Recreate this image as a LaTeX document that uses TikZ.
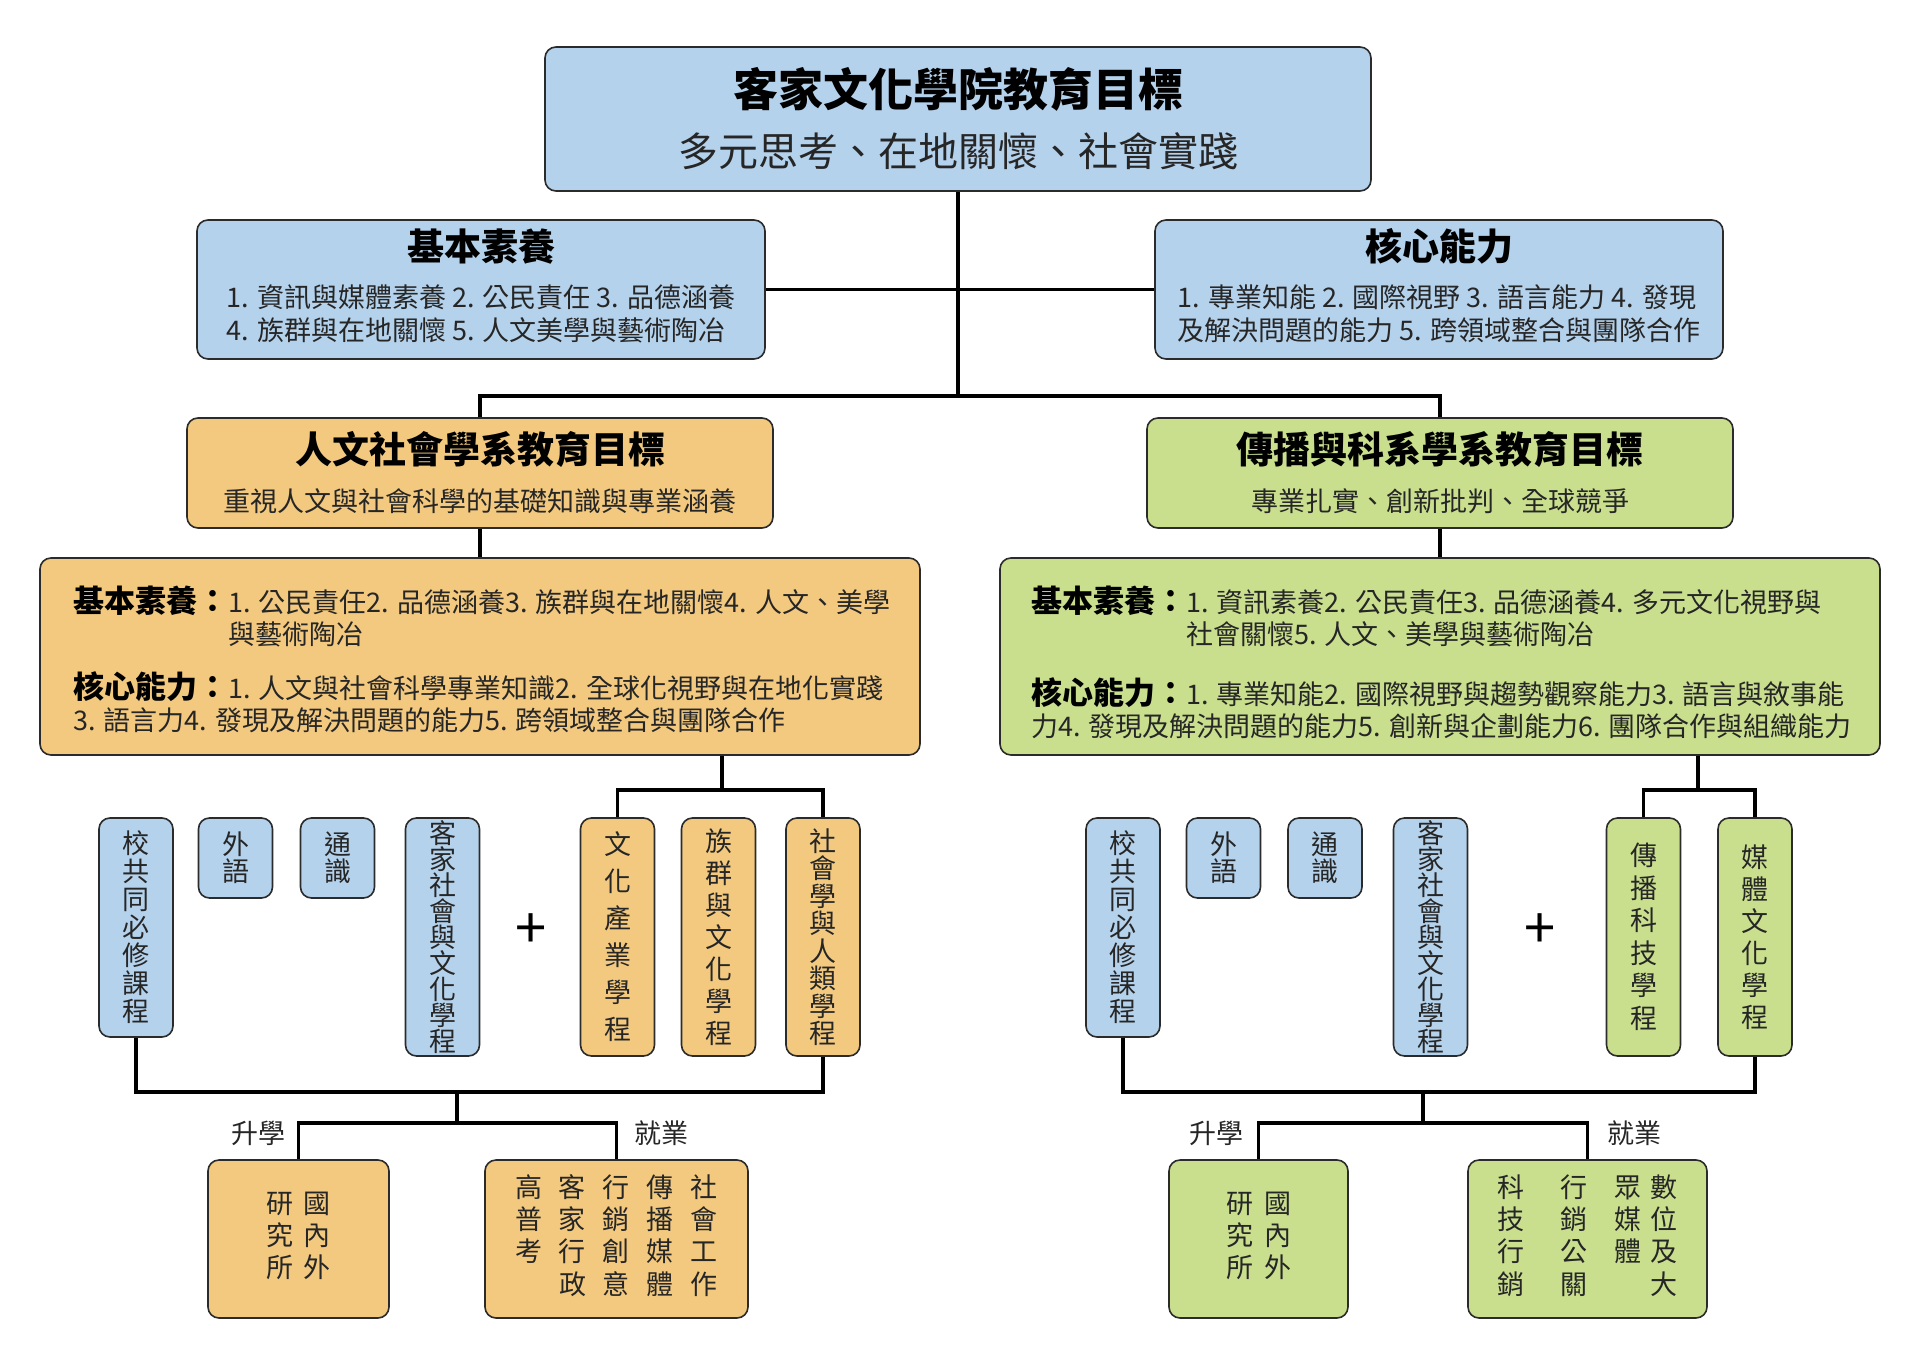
\documentclass[tikz,border=0pt]{standalone}
\usepackage{fontspec}
\setmainfont{Noto Sans CJK TC}
\usepackage{tikz}
\usetikzlibrary{positioning,calc}
\definecolor{hkblue}{HTML}{B5D2EC}
\definecolor{hkorange}{HTML}{F2C97F}
\definecolor{hkgreen}{HTML}{C9DF8E}
\definecolor{hkline}{HTML}{2B2B2B}
\newcommand{\fs}[2]{\fontsize{#1}{#2}\selectfont}
\newcommand{\hd}[1]{{\fs{31}{32}\bfseries\color{black} #1}}
\tikzset{
  box/.style = {draw=hkline, line width=1.6pt, rounded corners=11pt,
    align=center, inner sep=0pt, text=black!85},
  box_b/.style = {box, fill=hkblue},% blue: college level
  box_o/.style = {box, fill=hkorange},% orange: humanities dept
  box_g/.style = {box, fill=hkgreen},% green: communication dept
  vcol/.style = {minimum width=74pt, minimum height=219pt},% course column
  vcol_l/.style = {minimum width=74pt, minimum height=238pt},
  vcol_s/.style = {minimum width=74pt, minimum height=80pt},
  link/.style = {draw=black, line width=3.6pt},
  lbl/.style = {font=\fs{27}{27}, inner sep=0pt, text=black!85},
  hang/.style = {anchor=west, align=left, inner sep=0pt, font=\fs{27}{32}, text=black!85}
}

\begin{document}
\begin{tikzpicture}[x=1pt,y=-1pt]
\path[use as bounding box, fill=white] (0,0) rectangle (1920,1357);

% college level
\node[box_b, minimum width=826pt, minimum height=144pt, font=\fs{40}{60}] (goal) at (958,119)
  {{\fs{45}{60}\bfseries\color{black} 客家文化學院教育目標}\\多元思考、在地關懷、社會實踐};
\node[box_b, minimum width=568pt, minimum height=139pt, font=\fs{27}{33}] (basic) at (481,289.5)
  {{\fs{37}{33}\bfseries\color{black} 基本素養}\\[14pt]
   \begin{tabular}[t]{@{}l@{}}1. 資訊與媒體素養 2. 公民責任 3. 品德涵養\\4. 族群與在地關懷 5. 人文美學與藝術陶冶\end{tabular}};
\node[box_b, minimum width=568pt, minimum height=139pt, font=\fs{27}{33}] (core) at (1439,289.5)
  {{\fs{37}{33}\bfseries\color{black} 核心能力}\\[14pt]
   \begin{tabular}[t]{@{}l@{}}1. 專業知能 2. 國際視野 3. 語言能力 4. 發現\\及解決問題的能力 5. 跨領域整合與團隊合作\end{tabular}};

% departments
\node[box_o, minimum width=586pt, minimum height=110pt, font=\fs{27}{48}] (dept_o) at (480,473)
  {{\fs{37}{48}\bfseries\color{black} 人文社會學系教育目標}\\重視人文與社會科學的基礎知識與專業涵養};
\node[box_g, minimum width=586pt, minimum height=110pt, font=\fs{27}{48}] (dept_g) at (1440,473)
  {{\fs{37}{48}\bfseries\color{black} 傳播與科系學系教育目標}\\專業扎實、創新批判、全球競爭};

\node[box_o, minimum width=880pt, minimum height=197pt] (big_o) at (480,656.5) {};
\node[hang] (txt_o1) at (73,617)
  {\hd{基本素養：}1. 公民責任2. 品德涵養3. 族群與在地關懷4. 人文、美學\\\hphantom{\hd{基本素養：}}與藝術陶冶};
\node[hang] (txt_o2) at (73,702)
  {\hd{核心能力：}1. 人文與社會科學專業知識2. 全球化視野與在地化實踐\\3. 語言力4. 發現及解決問題的能力5. 跨領域整合與團隊合作};

\node[box_g, minimum width=880pt, minimum height=197pt] (big_g) at (1440,656.5) {};
\node[hang] (txt_g1) at (1031,617)
  {\hd{基本素養：}1. 資訊素養2. 公民責任3. 品德涵養4. 多元文化視野與\\\hphantom{\hd{基本素養：}}社會關懷5. 人文、美學與藝術陶冶};
\node[hang] (txt_g2) at (1031,708)
  {\hd{核心能力：}1. 專業知能2. 國際視野與趨勢觀察能力3. 語言與敘事能\\力4. 發現及解決問題的能力5. 創新與企劃能力6. 團隊合作與組織能力};

% courses, humanities side
\node[box_b, vcol, font=\fs{27}{28}] (c_o1) at (136,927.5) {校\\共\\同\\必\\修\\課\\程};
\node[box_b, vcol_s, font=\fs{27}{27}] (c_o2) at (235.5,858) {外\\語};
\node[box_b, vcol_s, font=\fs{27}{27}] (c_o3) at (337.5,858) {通\\識};
\node[box_b, vcol_l, font=\fs{27}{26}] (c_o4) at (442.5,937) {客\\家\\社\\會\\與\\文\\化\\學\\程};
\node[font=\fs{56}{56}, inner sep=0pt] (plus_o) at (531,931) {+};
\node[box_o, vcol_l, font=\fs{27}{37}] (p_o1) at (617.5,937) {文\\化\\產\\業\\學\\程};
\node[box_o, vcol_l, font=\fs{27}{32}] (p_o2) at (718.5,937) {族\\群\\與\\文\\化\\學\\程};
\node[box_o, vcol_l, font=\fs{27}{27.5}] (p_o3) at (823,937) {社\\會\\學\\與\\人\\類\\學\\程};

% courses, communication side
\node[box_b, vcol, font=\fs{27}{28}] (c_g1) at (1123,927.5) {校\\共\\同\\必\\修\\課\\程};
\node[box_b, vcol_s, font=\fs{27}{27}] (c_g2) at (1223.5,858) {外\\語};
\node[box_b, vcol_s, font=\fs{27}{27}] (c_g3) at (1325,858) {通\\識};
\node[box_b, vcol_l, font=\fs{27}{26}] (c_g4) at (1430.5,937) {客\\家\\社\\會\\與\\文\\化\\學\\程};
\node[font=\fs{56}{56}, inner sep=0pt] (plus_g) at (1540,931) {+};
\node[box_g, vcol_l, font=\fs{27}{32.5}] (p_g1) at (1643.5,937) {傳\\播\\科\\技\\學\\程};
\node[box_g, vcol_l, font=\fs{27}{32}] (p_g2) at (1755,937) {媒\\體\\文\\化\\學\\程};

% further study / jobs
\node[box_o, minimum width=181pt, minimum height=158pt, font=\fs{27}{32}] (j_o1) at (298.5,1239)
  {\begin{tabular}{@{}c@{\hspace{11pt}}c@{}}研&國\\究&內\\所&外\end{tabular}};
\node[box_o, minimum width=263pt, minimum height=158pt, font=\fs{27}{32}] (j_o2) at (616.5,1239)
  {\begin{tabular}{@{}c@{\hspace{17pt}}c@{\hspace{17pt}}c@{\hspace{17pt}}c@{\hspace{17pt}}c@{}}
   高&客&行&傳&社\\普&家&銷&播&會\\考&行&創&媒&工\\&政&意&體&作\end{tabular}};
\node[box_g, minimum width=179pt, minimum height=158pt, font=\fs{27}{32}] (j_g1) at (1258.5,1239)
  {\begin{tabular}{@{}c@{\hspace{11pt}}c@{}}研&國\\究&內\\所&外\end{tabular}};
\node[box_g, minimum width=239pt, minimum height=158pt, font=\fs{27}{32}] (j_g2) at (1587.5,1239)
  {\begin{tabular}{@{}c@{\hspace{36pt}}c@{\hspace{27pt}}c@{\hspace{9pt}}c@{}}
   科&行&眾&數\\技&銷&媒&位\\行&公&體&及\\銷&關&&大\end{tabular}};

% connectors
\coordinate (top_fork) at (958,396);
\draw[link] (goal.south) -- (top_fork);
\draw[link] (basic.east) -- (core.west);
\draw[link] (dept_o.north) |- (top_fork) -| (dept_g.north);
\draw[link] (dept_o.south) -- (big_o.north);
\draw[link] (dept_g.south) -- (big_g.north);

\coordinate (po_fork) at (722,790);
\draw[link] (big_o.south -| po_fork) -- (po_fork);
\draw[link] (p_o1.north) |- (po_fork) -| (p_o3.north);
\coordinate (bo_fork) at (457,1092);
\draw[link] (c_o1.south) |- (bo_fork) -| (p_o3.south);
\coordinate (bo_split) at (457,1123);
\draw[link] (bo_fork) -- (bo_split);
\draw[link] (j_o1.north) |- (bo_split) -| (j_o2.north);
\node (up_o) at (j_o1.north |- bo_split) [lbl, xshift=-40pt, yshift=-10pt] {升學};
\node (job_o) at (j_o2.north |- bo_split) [lbl, xshift=45pt, yshift=-10pt] {就業};

\coordinate (pg_fork) at (1698,790);
\draw[link] (big_g.south -| pg_fork) -- (pg_fork);
\draw[link] (p_g1.north) |- (pg_fork) -| (p_g2.north);
\coordinate (bg_fork) at (1423,1092);
\draw[link] (c_g1.south) |- (bg_fork) -| (p_g2.south);
\coordinate (bg_split) at (1423,1123);
\draw[link] (bg_fork) -- (bg_split);
\draw[link] (j_g1.north) |- (bg_split) -| (j_g2.north);
\node (up_g) at (j_g1.north |- bg_split) [lbl, xshift=-42pt, yshift=-10pt] {升學};
\node (job_g) at (j_g2.north |- bg_split) [lbl, xshift=47pt, yshift=-10pt] {就業};
\end{tikzpicture}
\end{document}
